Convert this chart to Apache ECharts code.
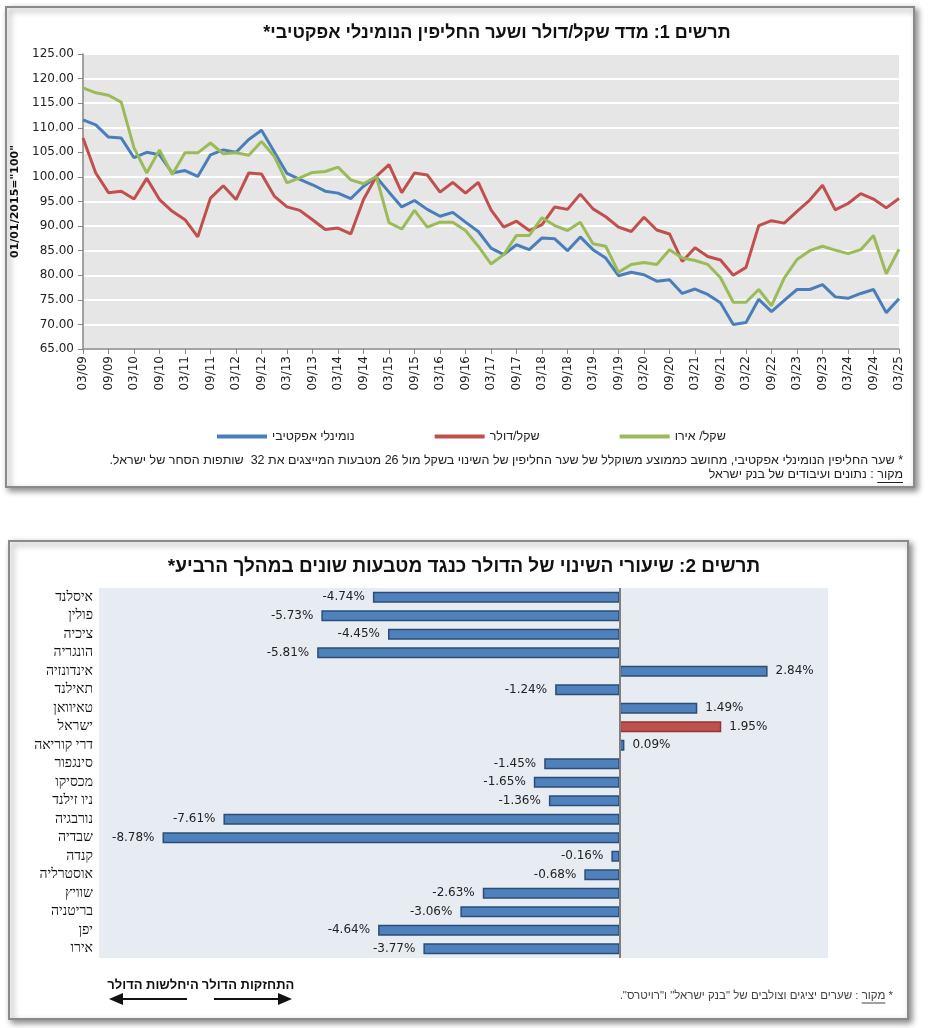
<!DOCTYPE html>
<html><head><meta charset="utf-8">
<script src="https://cdn.jsdelivr.net/npm/echarts@6/dist/echarts.min.js"></script>
<style>html,body{margin:0;padding:0;background:#fff}#c{width:928px;height:1028px}</style>
</head><body><div id="c"></div>
<script>
// ---------- data: chart 1 (quarterly index, 01/01/2015 = 100) ----------
const quarters = [
  "03/09","06/09","09/09","12/09",
  "03/10","06/10","09/10","12/10",
  "03/11","06/11","09/11","12/11",
  "03/12","06/12","09/12","12/12",
  "03/13","06/13","09/13","12/13",
  "03/14","06/14","09/14","12/14",
  "03/15","06/15","09/15","12/15",
  "03/16","06/16","09/16","12/16",
  "03/17","06/17","09/17","12/17",
  "03/18","06/18","09/18","12/18",
  "03/19","06/19","09/19","12/19",
  "03/20","06/20","09/20","12/20",
  "03/21","06/21","09/21","12/21",
  "03/22","06/22","09/22","12/22",
  "03/23","06/23","09/23","12/23",
  "03/24","06/24","09/24","12/24",
  "03/25"
];
const nominalEffective = [
  111.6,110.6,108.1,107.9, 103.9,105.0,104.5,100.8, 101.3,100.1,104.5,105.5,
  105.0,107.6,109.5,105.1, 100.7,99.5,98.4,97.1, 96.7,95.6,98.1,100.0,
  96.9,93.9,95.2,93.4, 92.0,92.8,90.8,88.9, 85.5,84.2,86.2,85.2,
  87.6,87.4,85.0,87.8, 85.2,83.5,79.9,80.6, 80.1,78.8,79.1,76.3,
  77.2,76.1,74.4,70.0, 70.4,75.1,72.6,74.9, 77.1,77.1,78.1,75.6,
  75.3,76.3,77.1,72.4, 75.2
];
const shekelDollar = [
  107.9,100.8,96.8,97.1, 95.5,99.7,95.4,93.0, 91.3,87.8,95.7,98.2,
  95.4,100.8,100.6,96.1, 93.9,93.2,91.3,89.3, 89.6,88.4,95.4,100.1,
  102.5,96.8,100.8,100.4, 96.9,98.9,96.7,98.9, 93.3,89.8,91.0,89.1,
  90.3,93.9,93.4,96.5, 93.5,91.9,89.8,88.9, 91.8,89.2,88.4,82.8,
  85.6,83.8,83.1,80.0, 81.6,90.1,91.1,90.6, 93.0,95.3,98.3,93.3,
  94.6,96.6,95.5,93.7, 95.6
];
const shekelEuro = [
  118.1,117.1,116.6,115.2, 105.9,100.8,105.5,100.5, 104.9,104.9,106.9,104.7,
  104.9,104.4,107.2,104.2, 98.8,99.8,100.9,101.1, 102.0,99.4,98.6,100.1,
  90.7,89.4,93.2,89.8, 90.8,90.8,89.1,85.9, 82.3,84.2,88.1,88.1,
  91.7,90.1,89.1,90.8, 86.4,85.9,80.6,82.2, 82.6,82.2,85.2,83.5,
  83.0,82.2,79.5,74.5, 74.5,77.1,73.8,79.4, 83.2,85.0,85.9,85.1,
  84.4,85.2,88.1,80.3, 85.3
];
const seriesNames = ["נומינלי אפקטיבי", "שקל/דולר", "שקל/ אירו"];
const yMin = 65, yMax = 125, yStep = 5;

// ---------- data: chart 2 (dollar change vs currencies, %) ----------
const countries = [
  "איסלנד","פולין","ציכיה","הונגריה","אינדונזיה","תאילנד","טאיוואן","ישראל",
  "דרי קוריאה","סינגפור","מכסיקו","ניו זילנד","נורבגיה","שבדיה","קנדה",
  "אוסטרליה","שוויץ","בריטניה","יפן","אירו"
];
const dollarChange = [
  -4.74,-5.73,-4.45,-5.81,2.84,-1.24,1.49,1.95,
  0.09,-1.45,-1.65,-1.36,-7.61,-8.78,-0.16,
  -0.68,-2.63,-3.06,-4.64,-3.77
];
const highlightCountry = "ישראל";
const xMin2 = -10, xMax2 = 4;

// ---------- helpers ----------
const RLM = "\u200F";
const rtl = s => RLM + s + RLM;
const mctx = document.createElement('canvas').getContext('2d');
const tw = (t, f) => { mctx.font = f; return mctx.measureText(t).width; };

const BLUE = '#4a7ebb', RED = '#c0504d', GREEN = '#9bbb59';
const HEB = '"Liberation Sans", "DejaVu Sans", sans-serif';
const NUM = '"DejaVu Sans", sans-serif';

const fn1Font = '12.5px ' + HEB;
const fn2Font = '11.5px ' + HEB;
const wMakor1 = tw('מקור', fn1Font), wSp1 = tw(' ', fn1Font);
const wStar2 = tw('*', fn2Font), wMakor2 = tw('מקור', fn2Font), wSp2 = tw(' ', fn2Font);

const chart = echarts.init(document.getElementById('c'), null, {renderer: 'canvas'});

const barData = dollarChange.map((v, i) => ({
  value: v,
  itemStyle: countries[i] === highlightCountry
    ? {color: RED, borderColor: '#8c3836', borderWidth: 1.5}
    : {color: '#4f81bd', borderColor: '#2c4d75', borderWidth: 1.5},
  label: {position: v < 0 ? 'left' : 'right'}
}));

const option = {
  animation: false,
  backgroundColor: '#ffffff',
  graphic: [
    {type: 'rect', z: -10, shape: {x: 6, y: 7, width: 908, height: 480},
     style: {fill: '#fff', stroke: '#8a8a8a', lineWidth: 2, shadowBlur: 6, shadowOffsetX: 3, shadowOffsetY: 3, shadowColor: 'rgba(0,0,0,0.45)'}},
    {type: 'rect', z: -10, shape: {x: 9, y: 541, width: 899, height: 478},
     style: {fill: '#fff', stroke: '#8a8a8a', lineWidth: 2, shadowBlur: 6, shadowOffsetX: 3, shadowOffsetY: 3, shadowColor: 'rgba(0,0,0,0.45)'}},
    {type: 'text', x: 497, y: 33, style: {text: rtl('תרשים 1: מדד שקל/דולר ושער החליפין הנומינלי אפקטיבי*'), font: 'bold 18px ' + HEB, fill: '#111', textAlign: 'center', textVerticalAlign: 'middle'}},
    {type: 'text', x: 464, y: 567, style: {text: rtl('תרשים 2: שיעורי השינוי של הדולר כנגד מטבעות שונים במהלך הרביע*'), font: 'bold 19px ' + HEB, fill: '#111', textAlign: 'center', textVerticalAlign: 'middle'}},
    // footnotes chart 1
    {type: 'text', x: 903, y: 461, style: {text: rtl('* שער החליפין הנומינלי אפקטיבי, מחושב כממוצע משוקלל של שער החליפין של השינוי בשקל מול 26 מטבעות המייצגים את 32  שותפות הסחר של ישראל.'), font: fn1Font, fill: '#222', textAlign: 'right', textVerticalAlign: 'middle'}},
    {type: 'text', x: 903, y: 475, style: {text: 'מקור', font: fn1Font, fill: '#222', textAlign: 'right', textVerticalAlign: 'middle'}},
    {type: 'line', shape: {x1: 903 - wMakor1, y1: 482.5, x2: 903, y2: 482.5}, style: {stroke: '#222', lineWidth: 1}},
    {type: 'text', x: 903 - wMakor1 - wSp1, y: 475, style: {text: rtl(': נתונים ועיבודים של בנק ישראל'), font: fn1Font, fill: '#222', textAlign: 'right', textVerticalAlign: 'middle'}},
    // arrows chart 2
    {type: 'text', x: 248, y: 985, style: {text: rtl('התחזקות הדולר'), font: 'bold 13px ' + HEB, fill: '#111', textAlign: 'center', textVerticalAlign: 'middle'}},
    {type: 'text', x: 153, y: 985, style: {text: rtl('היחלשות הדולר'), font: 'bold 13px ' + HEB, fill: '#111', textAlign: 'center', textVerticalAlign: 'middle'}},
    {type: 'line', shape: {x1: 187, y1: 999, x2: 118, y2: 999}, style: {stroke: '#111', lineWidth: 2}},
    {type: 'polygon', shape: {points: [[109, 999], [123, 993], [123, 1005]]}, style: {fill: '#111'}},
    {type: 'line', shape: {x1: 214, y1: 999, x2: 283, y2: 999}, style: {stroke: '#111', lineWidth: 2}},
    {type: 'polygon', shape: {points: [[292, 999], [278, 993], [278, 1005]]}, style: {fill: '#111'}},
    // footnote chart 2
    {type: 'text', x: 893, y: 996, style: {text: '*', font: fn2Font, fill: '#444', textAlign: 'right', textVerticalAlign: 'middle'}},
    {type: 'text', x: 893 - wStar2 - wSp2, y: 996, style: {text: 'מקור', font: fn2Font, fill: '#444', textAlign: 'right', textVerticalAlign: 'middle'}},
    {type: 'line', shape: {x1: 893 - wStar2 - wSp2 - wMakor2, y1: 1003, x2: 893 - wStar2 - wSp2, y2: 1003}, style: {stroke: '#444', lineWidth: 1}},
    {type: 'text', x: 893 - wStar2 - wSp2 - wMakor2 - wSp2, y: 996, style: {text: rtl(': שערים יציגים וצולבים של "בנק ישראל" ו"רויטרס".'), font: fn2Font, fill: '#444', textAlign: 'right', textVerticalAlign: 'middle'}}
  ],
  legend: {
    left: 212, top: 425, itemGap: 80, itemWidth: 50, itemHeight: 4, icon: 'rect',
    data: seriesNames,
    textStyle: {fontFamily: HEB, fontSize: 12.5, color: '#222'}
  },
  grid: [
    {left: 83, top: 54, width: 816, height: 295, show: true, backgroundColor: '#e6e6e6', borderWidth: 0},
    {left: 99, top: 588, width: 729, height: 370, show: true, backgroundColor: '#e7ebf2', borderWidth: 0}
  ],
  xAxis: [
    {gridIndex: 0, type: 'category', data: quarters, boundaryGap: false,
     axisLine: {lineStyle: {color: '#868686', width: 1.5}},
     axisTick: {show: true, interval: 1, length: 5, lineStyle: {color: '#868686'}},
     axisLabel: {interval: 1, rotate: 90, margin: 7, fontFamily: NUM, fontSize: 12, color: '#222'}},
    {gridIndex: 1, type: 'value', min: xMin2, max: xMax2, show: false}
  ],
  yAxis: [
    {gridIndex: 0, type: 'value', min: yMin, max: yMax, interval: yStep,
     name: '01/01/2015="100"', nameLocation: 'middle', nameGap: 57, nameRotate: 90,
     nameTextStyle: {fontFamily: NUM, fontSize: 11, fontWeight: 'bold', color: '#111'},
     axisLine: {show: true, lineStyle: {color: '#868686', width: 1.5}},
     axisTick: {show: true, length: 5, lineStyle: {color: '#868686'}},
     splitLine: {show: true, lineStyle: {color: '#ffffff', width: 2}},
     axisLabel: {margin: 9, fontFamily: NUM, fontSize: 12, color: '#222', formatter: v => v.toFixed(2)}},
    {gridIndex: 1, type: 'category', data: countries, inverse: true,
     axisLine: {show: false}, axisTick: {show: false}, splitLine: {show: false},
     axisLabel: {margin: 6, fontFamily: '"Liberation Serif", serif', fontSize: 14, color: '#111'}}
  ],
  series: [
    {name: seriesNames[0], type: 'line', xAxisIndex: 0, yAxisIndex: 0, data: nominalEffective, showSymbol: false, color: BLUE, lineStyle: {width: 3, color: BLUE}, z: 3},
    {name: seriesNames[1], type: 'line', xAxisIndex: 0, yAxisIndex: 0, data: shekelDollar, showSymbol: false, color: RED, lineStyle: {width: 3, color: RED}, z: 3},
    {name: seriesNames[2], type: 'line', xAxisIndex: 0, yAxisIndex: 0, data: shekelEuro, showSymbol: false, color: GREEN, lineStyle: {width: 3, color: GREEN}, z: 3},
    {type: 'bar', xAxisIndex: 1, yAxisIndex: 1, data: barData, barWidth: 11,
     label: {show: true, distance: 8, fontFamily: NUM, fontSize: 12, color: '#222', formatter: p => p.value.toFixed(2) + '%'},
     markLine: {silent: true, symbol: ['none', 'none'], label: {show: false},
       lineStyle: {color: '#7f7f7f', width: 2, type: 'solid'}, data: [{xAxis: 0}]}}
  ]
};
chart.setOption(option);
</script></body></html>
